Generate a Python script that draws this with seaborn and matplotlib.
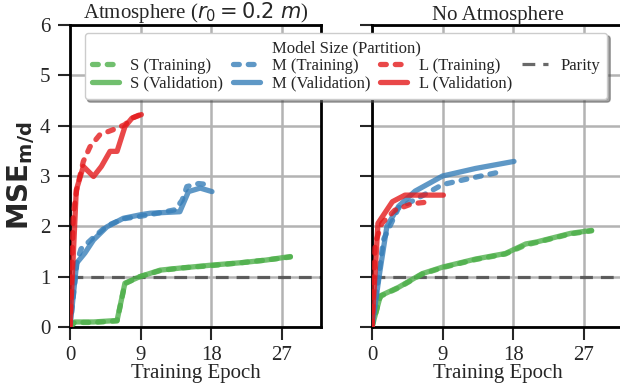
import numpy as np
import pandas as pd
import matplotlib
matplotlib.use("Agg")
import matplotlib.pyplot as plt
import seaborn as sns

# --- data (epoch, MSE) ---
# Atmosphere (r0 = 0.2 m)
atm_s_train_x = [0, 0.6, 3.0, 6.0, 7.0, 8.9, 11.5, 14.0, 18.1, 22.0, 25.0, 28.1]
atm_s_train_y = [0, 0.09, 0.09, 0.12, 0.86, 1.0, 1.12, 1.17, 1.22, 1.28, 1.33, 1.39]
atm_s_val_x = [0, 0.6, 3.0, 6.0, 7.0, 8.9, 11.5, 14.0, 18.1, 22.0, 25.0, 28.1]
atm_s_val_y = [0, 0.1, 0.1, 0.13, 0.87, 1.0, 1.13, 1.17, 1.23, 1.28, 1.33, 1.40]
atm_m_train_x = [0, 0.9, 1.4, 3.0, 4.7, 6.8, 9.0, 11.5, 13.4, 14.3, 14.9, 16.4, 17.0]
atm_m_train_y = [0, 1.3, 1.55, 1.78, 2.01, 2.15, 2.2, 2.27, 2.33, 2.52, 2.79, 2.85, 2.84]
atm_m_val_x = [0, 0.85, 1.9, 3.0, 4.7, 6.8, 9.0, 10.2, 14.0, 15.1, 16.6, 18.1]
atm_m_val_y = [0, 1.27, 1.47, 1.73, 1.99, 2.16, 2.23, 2.26, 2.29, 2.69, 2.76, 2.69]
atm_l_train_x = [0, 0.43, 0.85, 1.7, 2.55, 3.8, 5.5, 7.0, 7.9, 9.1]
atm_l_train_y = [0, 2.26, 2.72, 3.29, 3.58, 3.82, 3.92, 4.02, 4.15, 4.23]
atm_l_val_x = [0, 0.8, 1.7, 3.0, 4.0, 5.1, 6.0, 7.0, 7.9, 9.1]
atm_l_val_y = [0, 2.72, 3.19, 2.99, 3.19, 3.49, 3.49, 3.98, 4.15, 4.22]

# No Atmosphere
noa_s_train_x = [0, 1.07, 3.4, 6.4, 9.0, 13.2, 17.0, 19.6, 21.0, 25.3, 28.0]
noa_s_train_y = [0, 0.61, 0.78, 1.05, 1.18, 1.34, 1.45, 1.63, 1.68, 1.85, 1.91]
noa_s_val_x = [0, 1.07, 3.4, 6.4, 9.0, 13.2, 17.0, 19.6, 21.0, 25.3, 28.0]
noa_s_val_y = [0, 0.62, 0.79, 1.06, 1.19, 1.35, 1.46, 1.65, 1.69, 1.86, 1.92]
noa_m_train_x = [0, 1.45, 3.4, 5.5, 9.0, 12.7, 16.6]
noa_m_train_y = [0, 1.73, 2.37, 2.53, 2.83, 2.96, 3.09]
noa_m_val_x = [0, 1.0, 1.9, 3.4, 5.5, 9.0, 13.2, 18.1]
noa_m_val_y = [0, 1.1, 2.0, 2.4, 2.7, 3.0, 3.15, 3.29]
noa_l_train_x = [0, 0.4, 1.25, 2.9, 5.1, 7.6]
noa_l_train_y = [0, 1.66, 2.06, 2.32, 2.45, 2.49]
noa_l_val_x = [0, 0.76, 2.6, 4.2, 9.1]
noa_l_val_y = [0, 2.06, 2.49, 2.62, 2.62]

sizes = ["S", "M", "L"]
partitions = ["Training", "Validation"]
panel_titles = [r"Atmosphere ($r_0 = 0.2\ m$)", "No Atmosphere"]
xticks = [0, 9, 18, 27]
yticks = [0, 1, 2, 3, 4, 5, 6]

panels = [
    {
        ("S", "Training"): (atm_s_train_x, atm_s_train_y),
        ("S", "Validation"): (atm_s_val_x, atm_s_val_y),
        ("M", "Training"): (atm_m_train_x, atm_m_train_y),
        ("M", "Validation"): (atm_m_val_x, atm_m_val_y),
        ("L", "Training"): (atm_l_train_x, atm_l_train_y),
        ("L", "Validation"): (atm_l_val_x, atm_l_val_y),
    },
    {
        ("S", "Training"): (noa_s_train_x, noa_s_train_y),
        ("S", "Validation"): (noa_s_val_x, noa_s_val_y),
        ("M", "Training"): (noa_m_train_x, noa_m_train_y),
        ("M", "Validation"): (noa_m_val_x, noa_m_val_y),
        ("L", "Training"): (noa_l_train_x, noa_l_train_y),
        ("L", "Validation"): (noa_l_val_x, noa_l_val_y),
    },
]

sns.set_theme(style="ticks")
plt.rcParams["font.family"] = ["Liberation Serif", "DejaVu Serif"]
plt.rcParams["mathtext.fontset"] = "dejavusans"

palette = sns.color_palette("Set1")
colors = {"S": palette[2], "M": palette[1], "L": palette[0]}
styles = {"Training": (0, (1.1, 1.7)), "Validation": "-"}

fig = plt.figure(figsize=(6.2, 3.87), dpi=100)
ax1 = fig.add_axes([70 / 620, 1 - 327 / 387, 251 / 620, 302 / 387])
ax2 = fig.add_axes([372 / 620, 1 - 327 / 387, 251 / 620, 302 / 387], sharey=ax1)

for ax, data, title in zip([ax1, ax2], panels, panel_titles):
    ax.grid(True, color="#b3b3b3", lw=1.8, zorder=0)
    ax.axhline(1, color="#444444", ls="--", lw=2.3, alpha=0.8, dashes=(4, 2.5),
               label="Parity", zorder=1)
    for size in sizes:
        for part in partitions:
            x, y = data[(size, part)]
            df = pd.DataFrame({"epoch": x, "mse": y})
            sns.lineplot(data=df, x="epoch", y="mse", ax=ax, color=colors[size],
                         lw=3.8, alpha=0.8, linestyle=styles[part],
                         dash_capstyle="round", solid_capstyle="round",
                         solid_joinstyle="round",
                         label=f"{size} ({part})", legend=False, zorder=3)
    ax.set_xlim(0, 32)
    ax.set_ylim(0, 6)
    ax.set_xticks(xticks)
    ax.set_yticks(yticks)
    ax.set_title(title, fontsize=15, pad=3)
    ax.set_xlabel("Training Epoch", fontsize=15, labelpad=-1)
    ax.set_ylabel("")
    ax.tick_params(labelsize=15, length=9, width=1.5, pad=5)
    for sp in ax.spines.values():
        sp.set_linewidth(2.0)
        sp.set_color("black")

ax2.tick_params(labelleft=False)
ax1.set_ylabel(r"$\mathbf{MSE_{m/d}}$", fontsize=20, labelpad=2)

handles, labels = ax1.get_lines(), [l.get_label() for l in ax1.get_lines()]
order = labels[1:] + labels[:1]
hmap = dict(zip(labels, handles))
leg = fig.legend([hmap[l] for l in order], order, loc="upper center",
                 bbox_to_anchor=(346 / 620, 1 - 33 / 387), ncol=4,
                 fontsize=12, title="Model Size (Partition)", title_fontsize=12,
                 shadow=True, frameon=True, framealpha=1, fancybox=True,
                 handlelength=1.6, columnspacing=0.6, handletextpad=0.7,
                 labelspacing=0.1, borderpad=0.45, borderaxespad=0)
leg.get_frame().set_edgecolor("#cccccc")

fig.savefig("out.png", dpi=100)
